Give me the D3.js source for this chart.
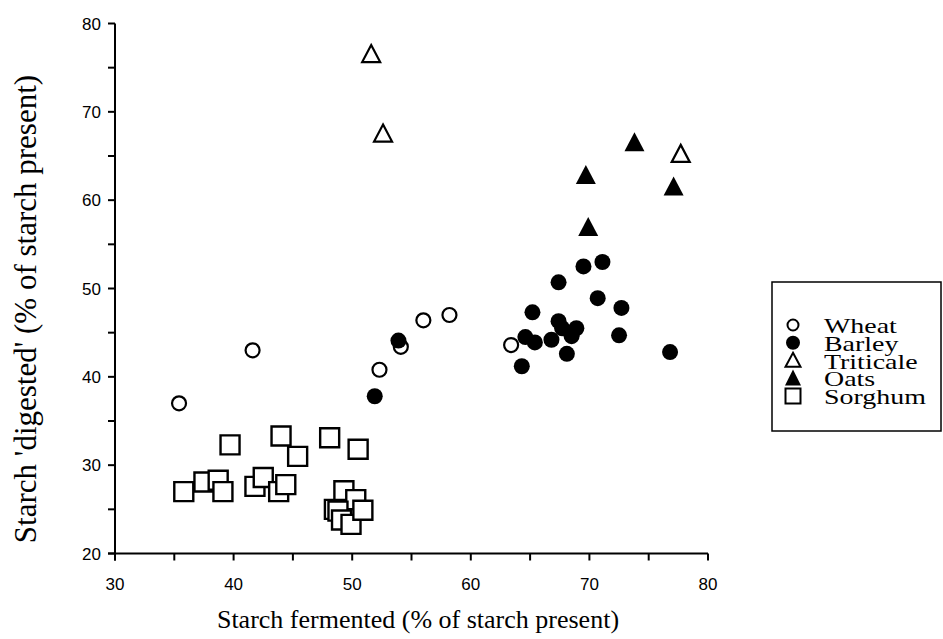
<!DOCTYPE html>
<html>
<head>
<meta charset="utf-8">
<script src="https://cdn.jsdelivr.net/npm/d3@7"></script>
<style>
  html, body { margin: 0; padding: 0; background: #fff; }
  svg { display: block; }
</style>
</head>
<body>
<svg id="chart" width="943" height="639"></svg>
<script>
// ---- Data ----
const wheatX = [35.4, 41.6, 52.3, 54.1, 56.0, 58.2, 63.4];
const wheatY = [37.0, 43.0, 40.8, 43.4, 46.4, 47.0, 43.6];

const barleyX = [51.9, 53.9, 64.3, 64.6, 65.4, 65.2, 66.8, 67.4, 67.4, 67.7, 68.1, 68.5, 68.9, 69.5, 71.1, 70.7, 72.7, 72.5, 76.8];
const barleyY = [37.8, 44.1, 41.2, 44.5, 43.9, 47.3, 44.2, 50.7, 46.3, 45.5, 42.6, 44.6, 45.5, 52.5, 53.0, 48.9, 47.8, 44.7, 42.8];

const triticaleX = [51.6, 52.6, 77.7];
const triticaleY = [76.5, 67.5, 65.2];

const oatsX = [73.8, 69.7, 77.1, 69.9];
const oatsY = [66.5, 62.8, 61.5, 56.9];

const sorghumX = [35.8, 37.5, 38.7, 39.1, 39.7, 41.8, 42.5, 43.8, 44.0, 44.4, 45.4, 48.1, 50.5, 49.3, 50.3, 48.5, 48.8, 49.1, 49.9, 50.9];
const sorghumY = [27.0, 28.1, 28.3, 27.0, 32.3, 27.6, 28.6, 27.0, 33.3, 27.8, 31.0, 33.1, 31.8, 27.1, 26.1, 25.0, 24.8, 23.8, 23.3, 24.9];

const xTicks = [30, 40, 50, 60, 70, 80];
const yTicks = [20, 30, 40, 50, 60, 70, 80];
const xMinorTicks = [35, 45, 55, 65, 75];
const yMinorTicks = [25, 35, 45, 55, 65, 75];

const seriesNames = ["Wheat", "Barley", "Triticale", "Oats", "Sorghum"];
const xTitle = "Starch fermented (% of starch present)";
const yTitle = "Starch 'digested' (% of starch present)";

// ---- Layout ----
const svg = d3.select("#chart");
const x = d3.scaleLinear().domain([30, 80]).range([115, 708]);
const y = d3.scaleLinear().domain([20, 80]).range([553.5, 23.5]);

function circlePath(r) {
  return `M${r},0A${r},${r} 0 1,1 ${-r},0A${r},${r} 0 1,1 ${r},0Z`;
}
function trianglePath(w, h) {
  return `M0,${-h*0.55}L${w/2},${h*0.45}L${-w/2},${h*0.45}Z`;
}
function squarePath(s) {
  const h = s / 2;
  return `M${-h},${-h}H${h}V${h}H${-h}Z`;
}

const styles = {
  Wheat:     { d: circlePath(7),        fill: "#fff", stroke: "#000", sw: 2.2 },
  Barley:    { d: circlePath(8),        fill: "#000", stroke: "none", sw: 0 },
  Triticale: { d: trianglePath(18, 17), fill: "#fff", stroke: "#000", sw: 2.2 },
  Oats:      { d: trianglePath(20, 19), fill: "#000", stroke: "none", sw: 0 },
  Sorghum:   { d: squarePath(19),       fill: "#fff", stroke: "#000", sw: 2.4 }
};

function zip(xs, ys) { return xs.map((v, i) => ({ x: v, y: ys[i] })); }

const series = [
  { name: "Sorghum", pts: zip(sorghumX, sorghumY) },
  { name: "Wheat", pts: zip(wheatX, wheatY) },
  { name: "Barley", pts: zip(barleyX, barleyY) },
  { name: "Triticale", pts: zip(triticaleX, triticaleY) },
  { name: "Oats", pts: zip(oatsX, oatsY) }
];

// ---- Axes ----
const axisStroke = 2;
const xAxis = svg.append("g").attr("transform", `translate(0,${y(20)})`);
xAxis.append("line").attr("x1", x(30) - 7).attr("x2", x(80)).attr("y1", 0).attr("y2", 0)
  .attr("stroke", "#000").attr("stroke-width", axisStroke);
xAxis.selectAll("line.tk").data(xTicks.concat(xMinorTicks)).join("line")
  .attr("class", "tk")
  .attr("x1", d => x(d)).attr("x2", d => x(d)).attr("y1", 0).attr("y2", 7)
  .attr("stroke", "#000").attr("stroke-width", axisStroke);
xAxis.selectAll("text").data(xTicks).join("text")
  .attr("x", d => x(d)).attr("y", 36)
  .attr("text-anchor", "middle")
  .attr("font-family", "Liberation Sans, Arial, sans-serif")
  .attr("font-size", 17)
  .text(d => d);

const yAxis = svg.append("g").attr("transform", `translate(${x(30)},0)`);
yAxis.append("line").attr("x1", 0).attr("x2", 0).attr("y1", y(80)).attr("y2", y(20) + 7)
  .attr("stroke", "#000").attr("stroke-width", axisStroke);
yAxis.selectAll("line.tk").data(yTicks.concat(yMinorTicks)).join("line")
  .attr("class", "tk")
  .attr("x1", -7).attr("x2", 0).attr("y1", d => y(d)).attr("y2", d => y(d))
  .attr("stroke", "#000").attr("stroke-width", axisStroke);
yAxis.selectAll("text").data(yTicks).join("text")
  .attr("x", -14).attr("y", d => y(d) + 6)
  .attr("text-anchor", "end")
  .attr("font-family", "Liberation Sans, Arial, sans-serif")
  .attr("font-size", 17)
  .text(d => d);

// Titles
svg.append("text")
  .attr("x", 418).attr("y", 628)
  .attr("text-anchor", "middle")
  .attr("font-family", "Liberation Serif, Times New Roman, serif")
  .attr("font-size", 26)
  .text(xTitle);

svg.append("text")
  .attr("transform", "translate(36,309) rotate(-90)")
  .attr("text-anchor", "middle")
  .attr("font-family", "Liberation Serif, Times New Roman, serif")
  .attr("font-size", 31)
  .text(yTitle);

// ---- Points ----
series.forEach(s => {
  const st = styles[s.name];
  svg.append("g").selectAll("path").data(s.pts).join("path")
    .attr("d", st.d)
    .attr("transform", d => `translate(${x(d.x)},${y(d.y)})`)
    .attr("fill", st.fill)
    .attr("stroke", st.stroke)
    .attr("stroke-width", st.sw);
});

// ---- Legend ----
const legend = svg.append("g");
legend.append("rect")
  .attr("x", 772).attr("y", 282).attr("width", 169).attr("height", 149)
  .attr("fill", "none").attr("stroke", "#000").attr("stroke-width", 1.5);

const legendStyles = {
  Wheat:     { d: circlePath(5.5),      fill: "#fff", stroke: "#000", sw: 2 },
  Barley:    { d: circlePath(7),        fill: "#000", stroke: "none", sw: 0 },
  Triticale: { d: trianglePath(15, 14), fill: "#fff", stroke: "#000", sw: 2 },
  Oats:      { d: trianglePath(16, 16), fill: "#000", stroke: "none", sw: 0 },
  Sorghum:   { d: squarePath(15),       fill: "#fff", stroke: "#000", sw: 2 }
};
const rowY = d3.scalePoint().domain(seriesNames).range([325, 396]);
const items = legend.selectAll("g.item").data(seriesNames).join("g")
  .attr("class", "item")
  .attr("transform", d => `translate(0,${rowY(d)})`);
items.append("path")
  .attr("d", d => legendStyles[d].d)
  .attr("transform", "translate(793,0)")
  .attr("fill", d => legendStyles[d].fill)
  .attr("stroke", d => legendStyles[d].stroke)
  .attr("stroke-width", d => legendStyles[d].sw);
items.append("text")
  .attr("transform", "translate(824,8) scale(1.27,1)")
  .attr("font-family", "Liberation Serif, Times New Roman, serif")
  .attr("font-size", 22)
  .text(d => d);
</script>
</body>
</html>
